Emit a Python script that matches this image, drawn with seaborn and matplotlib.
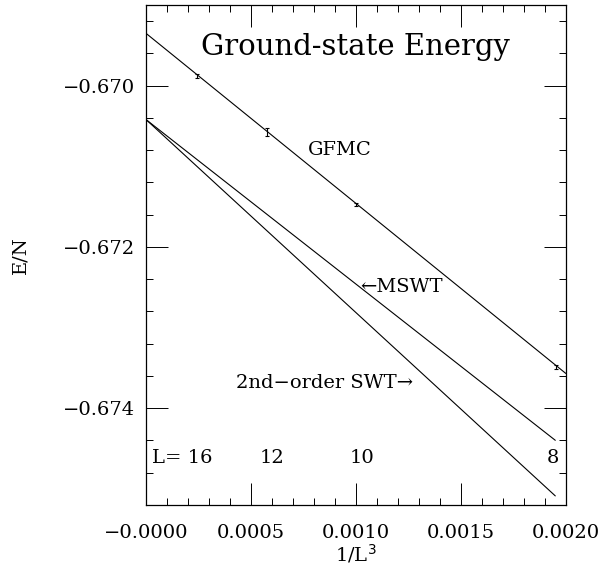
import matplotlib
matplotlib.use('Agg')
import matplotlib.pyplot as plt
from matplotlib.ticker import MultipleLocator, FixedLocator, FixedFormatter
import seaborn as sns
import pandas as pd
import numpy as np

# lattice sizes and 1/L^3
L_sizes = [16, 12, 10, 8]
inv_L3 = [1 / 16**3, 1 / 12**3, 1 / 10**3, 1 / 8**3]

# GFMC data points with error bars
gfmc_E = [-0.66988, -0.67058, -0.67147, -0.67349]
gfmc_err = [0.00003, 0.00005, 0.00002, 0.00002]

# fitted / theory lines (values read at x = 0 and end point)
fit_x = [0.0, 0.0020]
fit_gfmc = [-0.66935, -0.67357]
theory_x = [0.0, 0.00195]
mswt_E = [-0.67042, -0.67440]
swt2_E = [-0.67042, -0.67509]

x_ticks = [0.0, 0.0005, 0.0010, 0.0015, 0.0020]
x_ticklabels = ['\u22120.0000', '0.0005', '0.0010', '0.0015', '0.0020']
y_ticks = [-0.674, -0.672, -0.670]
y_ticklabels = ['\u22120.674', '\u22120.672', '\u22120.670']

sns.set_style('ticks')
plt.rcParams['font.family'] = ['DejaVu Serif']
plt.rcParams['text.color'] = 'black'
plt.rcParams['axes.labelcolor'] = 'black'
plt.rcParams['xtick.color'] = 'black'
plt.rcParams['ytick.color'] = 'black'

fig = plt.figure(figsize=(6.11, 5.71), dpi=100)
ax = fig.add_axes([0.239, 0.116, 0.687, 0.875])

lines = pd.DataFrame({
    'x': fit_x + theory_x + theory_x,
    'E': fit_gfmc + mswt_E + swt2_E,
    'series': ['GFMC'] * 2 + ['MSWT'] * 2 + ['SWT2'] * 2,
})
sns.lineplot(data=lines, x='x', y='E', units='series', estimator=None,
             color='black', linewidth=0.8, ax=ax, legend=False)

ax.errorbar(inv_L3, gfmc_E, yerr=gfmc_err, fmt='none', ecolor='black',
            elinewidth=0.8, capsize=1.5, capthick=0.8)

ax.set_xlim(0.0, 0.0020)
ax.set_ylim(-0.6752, -0.6690)

ax.xaxis.set_major_locator(FixedLocator(x_ticks))
ax.xaxis.set_major_formatter(FixedFormatter(x_ticklabels))
ax.xaxis.set_minor_locator(MultipleLocator(0.0001))
ax.yaxis.set_major_locator(FixedLocator(y_ticks))
ax.yaxis.set_major_formatter(FixedFormatter(y_ticklabels))
ax.yaxis.set_minor_locator(MultipleLocator(0.0004))

ax.tick_params(which='both', direction='in', top=True, right=True,
               labelsize=14, width=0.7, color='black')
ax.tick_params(which='major', length=16)
ax.tick_params(axis='x', which='major', pad=14)
ax.tick_params(axis='y', which='major', pad=8)
ax.tick_params(which='minor', length=5)
for s in ax.spines.values():
    s.set_linewidth(0.9)
    s.set_color('black')

ax.set_xlabel('1/L$^3$', fontsize=14, labelpad=0)
ax.set_ylabel('E/N', fontsize=14, labelpad=24)

ax.text(0.5, 0.916, 'Ground-state Energy', transform=ax.transAxes,
        ha='center', va='center', fontsize=21)
ax.text(0.00077, -0.67080, 'GFMC', fontsize=14, va='center')
ax.text(0.00102, -0.67250, '\u2190MSWT', fontsize=14, va='center')
ax.text(0.00043, -0.67369, '2nd\u2212order SWT\u2192', fontsize=14, va='center')

label_x = [0.00003, 0.00060, 0.00103, 0.00194]
label_txt = ['L= 16', '12', '10', '8']
for lx, t in zip(label_x, label_txt):
    ax.text(lx, -0.67462, t, fontsize=14, va='center',
            ha='left' if t.startswith('L') else 'center')

fig.savefig('out.png', dpi=100, facecolor='white')
